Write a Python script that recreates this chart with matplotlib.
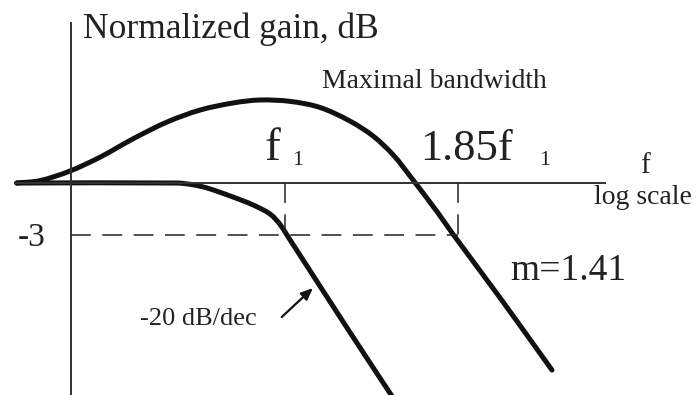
import matplotlib
matplotlib.use("Agg")
import matplotlib.pyplot as plt
import numpy as np
from matplotlib.path import Path
from matplotlib.patches import PathPatch

plt.rcParams.update({
    "font.family": ["Liberation Serif", "DejaVu Serif"],
    "text.color": "#222222",
})

# x: log10(f / f1), y: normalized gain in dB (sketch, not to scale)
F1 = 0.0
F185 = 0.267          # log10(1.85)
LEVEL_3DB = -3.0
XLIM = (-0.4398, 0.6389)
YLIM = (-12.23, 10.56)

# maximal-bandwidth response (m = 1.41)
mb_x = [-0.414, -0.378, -0.332, -0.285, -0.235, -0.182, -0.131, -0.080, -0.039,
        0.008, 0.054, 0.100, 0.136, 0.167, 0.194, 0.235, 0.259, 0.332, 0.412]
mb_y = [0.0, 0.14, 0.69, 1.50, 2.54, 3.52, 4.21, 4.62, 4.79,
        4.71, 4.36, 3.58, 2.71, 1.62, 0.35, -1.67, -2.94, -6.63, -10.79]

# single-pole response, -20 dB/dec
sp_x = [-0.414, -0.167, -0.144, -0.120, -0.080, -0.049, -0.023, -0.008, 0.003,
        0.100, 0.165]
sp_y = [0.0, 0.0, -0.09, -0.29, -0.81, -1.27, -1.79, -2.37, -3.0,
        -8.60, -12.29]

fig = plt.figure(figsize=(6.99, 3.95), dpi=100)
ax = fig.add_axes([0, 0, 1, 1])
ax.set_xlim(*XLIM)
ax.set_ylim(*YLIM)
ax.axis("off")

# pixels per data unit, used for chord-length spline parameters
SX = 699 / (XLIM[1] - XLIM[0])
SY = 395 / (YLIM[1] - YLIM[0])


def smooth_path(xs, ys):
    """Chord-length Catmull-Rom spline through the points, as cubic Beziers."""
    p = np.column_stack([np.asarray(xs) * SX, np.asarray(ys) * SY])
    t = np.concatenate([[0], np.cumsum(np.hypot(*np.diff(p, axis=0).T))])
    m = np.empty_like(p)
    m[1:-1] = (p[2:] - p[:-2]) / (t[2:] - t[:-2])[:, None]
    m[0] = (p[1] - p[0]) / (t[1] - t[0])
    m[-1] = (p[-1] - p[-2]) / (t[-1] - t[-2])
    verts = [p[0]]
    codes = [Path.MOVETO]
    for i in range(len(p) - 1):
        h = (t[i + 1] - t[i]) / 3
        verts += [p[i] + m[i] * h, p[i + 1] - m[i + 1] * h, p[i + 1]]
        codes += [Path.CURVE4] * 3
    verts = np.array(verts) / [SX, SY]
    return Path(verts, codes)


axis_kw = dict(color="#333333", lw=1.4, solid_capstyle="butt")
ax.plot([-0.330, -0.330], [-12.3, 9.29], **axis_kw)
ax.plot([-0.417, 0.495], [0, 0], **axis_kw)

dash_kw = dict(color="#222222", lw=1.1, ls=(0, (13, 7.5)), dash_capstyle="butt")
ax.plot([F1, F1], [0, LEVEL_3DB], **dash_kw)
ax.plot([F185, F185], [0, LEVEL_3DB], **dash_kw)
ax.plot([-0.330, F185], [LEVEL_3DB, LEVEL_3DB], **dash_kw)

for xs, ys in [(mb_x, mb_y), (sp_x, sp_y)]:
    ax.add_patch(PathPatch(smooth_path(xs, ys), fill=False, edgecolor="#111111",
                           lw=3.6, capstyle="round", joinstyle="round"))

ax.text(-0.312, 8.37, "Normalized gain, dB", fontsize=25.5)
ax.text(0.057, 5.48, "Maximal bandwidth", fontsize=20)
ax.text(-0.031, 1.33, "f", fontsize=34)
ax.text(0.011, 1.04, "1", fontsize=16)
ax.text(0.208, 1.33, "1.85f", fontsize=32)
ax.text(0.392, 1.04, "1", fontsize=16)
ax.text(0.548, 0.58, "f", fontsize=21)
ax.text(0.477, -1.21, "log scale", fontsize=20)
ax.text(-0.370, LEVEL_3DB - 0.17, "-3", fontsize=24, ha="right", va="center")
ax.text(-0.224, -8.19, "-20 dB/dec", fontsize=19)
ax.text(0.347, -5.60, "m=1.41", fontsize=27)

ax.annotate("", xy=(0.043, -6.06), xytext=(-0.005, -7.73),
            arrowprops=dict(arrowstyle="-|>,head_length=0.7,head_width=0.3",
                            color="#111111", lw=1.6, shrinkA=0, shrinkB=0))

fig.savefig("out.png", dpi=100)
